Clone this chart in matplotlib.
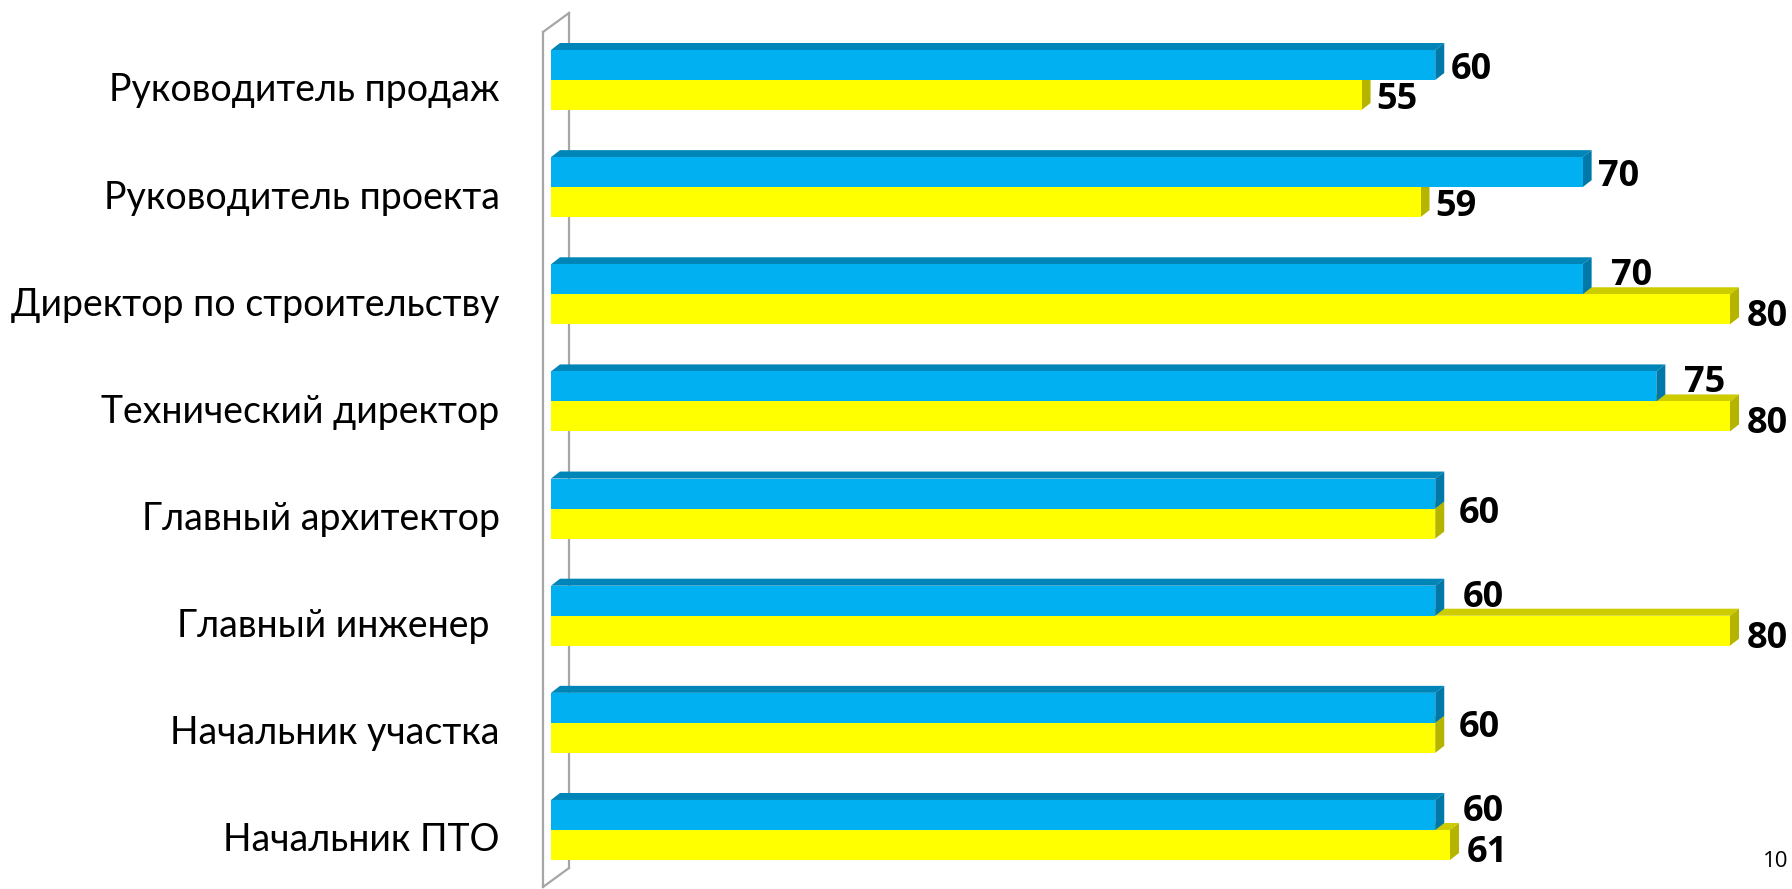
import matplotlib
matplotlib.use("Agg")
import matplotlib.pyplot as plt
from matplotlib.patches import Polygon
from matplotlib.transforms import ScaledTranslation

plt.rcParams["font.family"] = ["Lato", "DejaVu Sans"]

categories = ["Руководитель продаж", "Руководитель проекта", "Директор по строительству",
              "Технический директор", "Главный архитектор", "Главный инженер ",
              "Начальник участка", "Начальник ПТО"]
blue_vals = [60, 70, 70, 75, 60, 60, 60, 60]
yellow_vals = [55, 59, 80, 80, 60, 80, 60, 61]
page_number = "10"

BLUE = "#00B0F0"
BLUE_TOP = "#0085B8"
BLUE_SIDE = "#0078A8"
YELLOW = "#FFFF00"
YELLOW_TOP = "#CCCC00"
YELLOW_SIDE = "#B5B500"
WALL = "#A6A6A6"

W, H, DPI = 1792, 889, 100
fig = plt.figure(figsize=(W / DPI, H / DPI), dpi=DPI)

# plot area in pixels: value 0 at x=551, 80 at x=1730; group pitch 107 px
x0, x1 = 551, 1730
pitch = 107.14
yc0 = 80
top_px = yc0 - 0.5 * pitch
bot_px = yc0 + 7.5 * pitch
ax = fig.add_axes([x0 / W, (H - bot_px) / H, (x1 - x0) / W, (bot_px - top_px) / H])
ax.set_xlim(0, 80)
ax.set_ylim(7.5, -0.5)

px_x = 80 / (x1 - x0)      # data units per px, x
px_y = 1 / pitch           # data units per px, y
bh = 30 * px_y             # bar thickness
dx = 9 * px_x              # 3d depth
dy = 7 * px_y


def bar3d(y_top, val, top, side, z):
    y_bot = y_top + bh
    ax.add_patch(Polygon([(0, y_top), (val, y_top), (val + dx, y_top - dy), (dx, y_top - dy)],
                         closed=True, fc=top, ec="none", zorder=z, clip_on=False))
    ax.add_patch(Polygon([(val, y_top), (val + dx, y_top - dy), (val + dx, y_bot - dy), (val, y_bot)],
                         closed=True, fc=side, ec="none", zorder=z, clip_on=False))


for i, (b, yv) in enumerate(zip(blue_vals, yellow_vals)):
    # back faces first
    bar3d(i, yv, YELLOW_TOP, YELLOW_SIDE, 1)
    bar3d(i - bh, b, BLUE_TOP, BLUE_SIDE, 2)

ax.barh([i - bh / 2 for i in range(len(categories))], blue_vals, height=bh,
        color=BLUE, zorder=3, clip_on=False)
ax.barh([i + bh / 2 for i in range(len(categories))], yellow_vals, height=bh,
        color=YELLOW, zorder=3, clip_on=False)

# value labels
lab_kw = dict(fontsize=26, fontweight="bold", color="black", va="center", ha="left",
              clip_on=False, zorder=5, family=["Open Sans", "DejaVu Sans"])
down = 5 * px_y
for i, (b, yv) in enumerate(zip(blue_vals, yellow_vals)):
    if b == yv:
        ax.text(b + 23 * px_x, i + down, str(b), **lab_kw)
    elif b > yv:
        ax.text(b + 15 * px_x, i - bh / 2 + down, str(b), **lab_kw)
        ax.text(yv + 15 * px_x, i + bh / 2 + down, str(yv), **lab_kw)
    else:
        ax.text(b + 28 * px_x, i - bh / 2 - 8 * px_y + down, str(b), **lab_kw)
        ax.text(yv + 17 * px_x, i + bh / 2 + 3 * px_y + down, str(yv), **lab_kw)

# 3d wall on the left
wl, wr = -8 * px_x, 18 * px_x
ax.plot([wl, wl], [-48 * px_y, 807 * px_y], color=WALL, lw=1.6, clip_on=False, zorder=0)
ax.plot([wr, wr], [-67 * px_y, 788 * px_y], color=WALL, lw=1.6, clip_on=False, zorder=0)
ax.plot([wl, wr], [-48 * px_y, -67 * px_y], color=WALL, lw=1.6, clip_on=False, zorder=0)
ax.plot([wl, wr], [807 * px_y, 788 * px_y], color=WALL, lw=1.6, clip_on=False, zorder=0)

ax.set_yticks(range(len(categories)), labels=categories)
ax.tick_params(axis="y", length=0, pad=37, labelsize=27)
shift = ScaledTranslation(0, -7 / DPI, fig.dpi_scale_trans)
for lbl in ax.get_yticklabels():
    lbl.set_transform(lbl.get_transform() + shift)
ax.set_xticks([])
for s in ax.spines.values():
    s.set_visible(False)
ax.patch.set_visible(False)

fig.text(1788 / W, (H - 867) / H, page_number, fontsize=16, ha="right", va="baseline",
         family=["Open Sans", "DejaVu Sans"])

fig.savefig("out.png", dpi=DPI)
